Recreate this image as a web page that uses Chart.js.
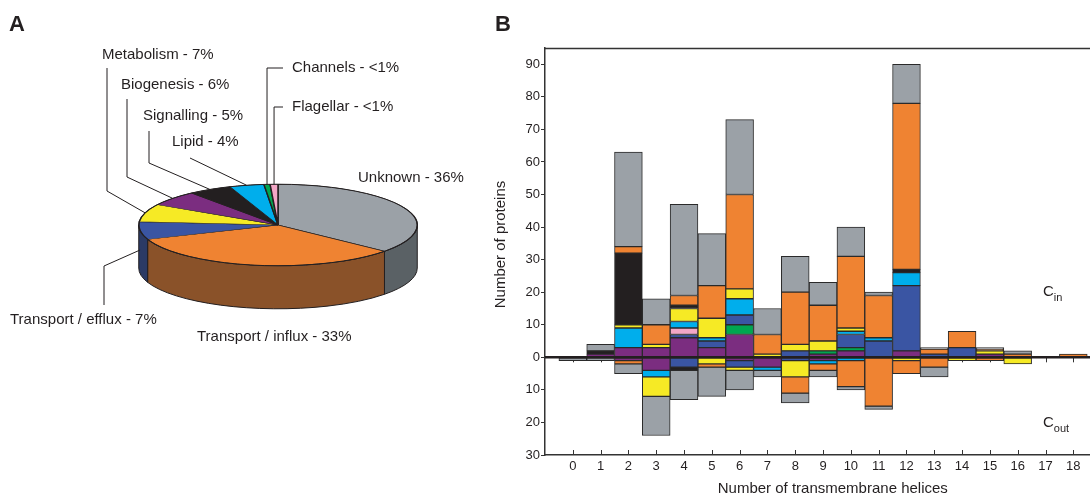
<!DOCTYPE html>
<html lang="en">
<head>
    <meta charset="UTF-8">
    <script src="https://cdn.jsdelivr.net/npm/chart.js"></script>
    <title>Membrane protein classes</title>
    <style>
        body {
            margin: 0;
            width: 1090px;
            height: 502px;
            background: #fff;
            overflow: hidden;
            position: relative;
        }
        canvas {
            position: absolute;
            top: 0;
        }
        #pieChart { left: 0; }
        #barChart { left: 480px; }
    </style>
</head>
<body>
<canvas id="pieChart" width="490" height="502"></canvas>
<canvas id="barChart" width="610" height="502"></canvas>
<script>
    // ---- panel A: functional classes ----
    const pieLabels = ['Unknown', 'Transport / influx', 'Transport / efflux', 'Metabolism', 'Biogenesis',
                       'Signalling', 'Lipid', 'Channels', 'Flagellar'];
    const pieShares = [36, 33, 7, 7, 6, 5, 4, 0.7, 0.9];
    const pieTexts = ['Unknown - 36%', 'Transport / influx - 33%', 'Transport / efflux - 7%', 'Metabolism - 7%',
                      'Biogenesis - 6%', 'Signalling - 5%', 'Lipid - 4%', 'Channels - <1%', 'Flagellar - <1%'];

    // ---- panel B: proteins per number of TM helices ----
    const helixCounts = [0, 1, 2, 3, 4, 5, 6, 7, 8, 9, 10, 11, 12, 13, 14, 15, 16, 17, 18];
    const yTicks = [-30, -20, -10, 0, 10, 20, 30, 40, 50, 60, 70, 80, 90];

    // C-terminus inside (stacked upwards)
    const biogenesisIn = [0, 1, 3, 3, 6, 3, 7, 0, 0, 1, 2, 0, 2, 0, 0, 1, 0, 0, 0];
    const channelsIn   = [0, 0, 0, 0, 0, 0, 3, 0, 0, 1, 1, 0, 0, 0, 0, 0, 0, 0, 0];
    const effluxIn     = [0, 0, 0, 0, 1, 2, 3, 0, 2, 0, 4, 5, 20, 1, 3, 0, 0, 0, 0];
    const flagellarIn  = [0, 0, 0, 0, 2, 0, 0, 0, 0, 0, 0, 0, 0, 0, 0, 0, 0, 0, 0];
    const lipidIn      = [0, 0, 6, 0, 2, 1, 5, 0, 0, 0, 1, 1, 4, 0, 0, 0, 0, 0, 0];
    const metabolismIn = [0, 0, 1, 1, 4, 6, 3, 1, 2, 3, 1, 0, 0, 0, 0, 1, 0, 0, 0];
    const signallingIn = [0, 1, 22, 0, 1, 0, 0, 0, 0, 0, 0, 0, 1, 0, 0, 0, 0, 0, 0];
    const influxIn     = [0, 0, 2, 6, 3, 10, 29, 6, 16, 11, 22, 13, 51, 1.5, 5, 0.5, 1, 0, 1];
    const unknownIn    = [0, 2, 29, 8, 28, 16, 23, 8, 11, 7, 9, 1, 12, 0.5, 0, 0.5, 1, 0, 0];

    // C-terminus outside (stacked downwards)
    const biogenesisOut = [0, 0, 1, 4, 0, 0, 1, 3, 0, 1, 0, 0, 0, 0, 0, 0, 0, 0, 0];
    const channelsOut   = [0, 0, 0, 0, 0, 0, 0, 0, 0, 0, 0, 0, 0, 0, 0, 0, 0, 0, 0];
    const effluxOut     = [0, 0, 0, 0, 3, 0, 2, 0, 1, 0, 0, 0, 0, 0, 0, 0, 0, 0, 0];
    const flagellarOut  = [0, 0, 0, 0, 0, 0, 0, 0, 0, 0, 0, 0, 0, 0, 0, 0, 0, 0, 0];
    const lipidOut      = [0, 0, 0, 2, 0, 0, 0, 1, 0, 1, 1, 0, 0, 0, 0, 0, 0, 0, 0];
    const metabolismOut = [0, 0, 0, 6, 0, 2, 1, 0, 5, 0, 0, 0, 1, 0, 1, 0, 2, 0, 0];
    const signallingOut = [0, 0, 0, 0, 1, 0, 0, 0, 0, 0, 0, 0, 0, 0, 0, 0, 0, 0, 0];
    const influxOut     = [0, 0, 1, 0, 0, 1, 0, 0, 5, 2, 8, 15, 4, 3, 0, 1, 0, 0, 0];
    const unknownOut    = [1, 1, 3, 12, 9, 9, 6, 2, 3, 2, 1, 1, 0, 3, 0, 0, 0, 0, 0];

    const colors = {
        Unknown: '#9ba1a7', 'Transport / influx': '#ef8332', 'Transport / efflux': '#3a55a3',
        Metabolism: '#f6ea25', Biogenesis: '#7b2d80', Signalling: '#231f20',
        Lipid: '#00aeec', Channels: '#00a650', Flagellar: '#f3a7c6'
    };
    const sideColors = {Unknown: '#5a6165', 'Transport / influx': '#8a5229', 'Transport / efflux': '#2b3a65'};

    Chart.defaults.font.family = "'Liberation Sans', Arial, sans-serif";
    Chart.defaults.color = '#231f20';

    const tilt = 41 / 140;
    const depth = 43;
    const ink = '#231f20';

    const pie3d = {
        id: 'pie3d',
        beforeDatasetsDraw(chart) {
            const ctx = chart.ctx;
            const arcs = chart.getDatasetMeta(0).data;
            const cx = arcs[0].x, cy = arcs[0].y, rx = arcs[0].outerRadius, ry = rx * tilt;
            // side wall, only the front half is seen
            ctx.save();
            arcs.forEach((a, i) => {
                const s = Math.max(a.startAngle, 0), e = Math.min(a.endAngle, Math.PI);
                if (e <= s) return;
                ctx.beginPath();
                ctx.ellipse(cx, cy, rx, ry, 0, s, e);
                ctx.lineTo(cx + rx * Math.cos(e), cy + ry * Math.sin(e) + depth);
                ctx.ellipse(cx, cy + depth, rx, ry, 0, e, s, true);
                ctx.closePath();
                ctx.fillStyle = sideColors[pieLabels[i]] || '#444';
                ctx.fill();
                ctx.lineWidth = 1;
                ctx.strokeStyle = ink;
                ctx.stroke();
            });
            ctx.restore();
            // squash the top face
            ctx.save();
            ctx.translate(cx, cy);
            ctx.scale(1, tilt);
            ctx.translate(-cx, -cy);
        },
        afterDatasetsDraw(chart) {
            const ctx = chart.ctx;
            ctx.restore();
            const arcs = chart.getDatasetMeta(0).data;
            const cx = arcs[0].x, cy = arcs[0].y, rx = arcs[0].outerRadius, ry = rx * tilt;
            ctx.save();
            ctx.strokeStyle = ink;
            ctx.lineWidth = 1;
            ctx.beginPath();
            ctx.ellipse(cx, cy, rx, ry, 0, 0, Math.PI * 2);
            ctx.stroke();
            ctx.restore();
        },
        afterDraw(chart) {
            const ctx = chart.ctx;
            const arcs = chart.getDatasetMeta(0).data;
            const cx = arcs[0].x, cy = arcs[0].y, rx = arcs[0].outerRadius, ry = rx * tilt;
            const edge = (i, down) => {
                const m = (arcs[i].startAngle + arcs[i].endAngle) / 2;
                return [cx + rx * Math.cos(m), cy + ry * Math.sin(m) + (down || 0)];
            };
            ctx.save();
            ctx.strokeStyle = ink;
            ctx.lineWidth = 1;
            const leader = pts => {
                ctx.beginPath();
                ctx.moveTo(pts[0][0], pts[0][1]);
                pts.slice(1).forEach(p => ctx.lineTo(p[0], p[1]));
                ctx.stroke();
            };
            leader([[107, 68], [107, 191], edge(3)]);
            leader([[127, 99], [127, 177], edge(4)]);
            leader([[149, 131], [149, 163], edge(5)]);
            leader([[190, 158], edge(6)]);
            const ch = edge(7), fl = edge(8);
            leader([[283, 68], [ch[0], 68], ch]);
            leader([[283, 107], [fl[0], 107], fl]);
            const ef = edge(2, depth * 0.45);
            leader([[104, 305], [104, 266], ef]);

            ctx.fillStyle = ink;
            ctx.font = "15px 'Liberation Sans', Arial, sans-serif";
            ctx.textBaseline = 'middle';
            const place = [[358, 178], [197, 337], [10, 320], [102, 55], [121, 85],
                           [143, 116], [172, 142], [292, 68], [292, 107]];
            pieTexts.forEach((t, i) => ctx.fillText(t, place[i][0], place[i][1]));

            ctx.font = "bold 22px 'Liberation Sans', Arial, sans-serif";
            ctx.textBaseline = 'alphabetic';
            ctx.fillText('A', 9, 31);
            ctx.restore();
        }
    };

    new Chart(document.getElementById('pieChart'), {
        type: 'pie',
        data: {
            labels: pieLabels,
            datasets: [{
                data: pieShares,
                backgroundColor: pieLabels.map(l => colors[l]),
                borderColor: ink,
                borderWidth: 1.5,
                hoverOffset: 0,
                clip: false
            }]
        },
        options: {
            responsive: false,
            animation: false,
            events: [],
            layout: {padding: {left: 138, right: 72, top: 85, bottom: 137}},
            plugins: {legend: {display: false}, tooltip: {enabled: false}}
        },
        plugins: [pie3d]
    });

    // ---- bar chart ----
    const order = ['Biogenesis', 'Channels', 'Transport / efflux', 'Flagellar', 'Lipid', 'Metabolism',
                   'Signalling', 'Transport / influx', 'Unknown'];
    const inside = [biogenesisIn, channelsIn, effluxIn, flagellarIn, lipidIn, metabolismIn, signallingIn, influxIn, unknownIn];
    const outside = [biogenesisOut, channelsOut, effluxOut, flagellarOut, lipidOut, metabolismOut, signallingOut, influxOut, unknownOut];

    function makeSet(name, values, sign) {
        return {
            label: name + (sign > 0 ? ' (Cin)' : ' (Cout)'),
            data: values.map((v, i) => ({x: helixCounts[i], y: v ? sign * v : null})),
            backgroundColor: colors[name],
            borderColor: '#2a2a2a',
            borderWidth: 1,
            borderSkipped: false,
            barPercentage: 1,
            categoryPercentage: 1
        };
    }
    const barSets = order.map((n, k) => makeSet(n, inside[k], 1))
        .concat(order.map((n, k) => makeSet(n, outside[k], -1)));

    const decor = {
        id: 'decor',
        beforeDatasetsDraw(chart) {
            const ctx = chart.ctx, x = chart.scales.x, y = chart.scales.y, area = chart.chartArea;
            const y0 = y.getPixelForValue(0);
            ctx.save();
            ctx.strokeStyle = '#333';
            ctx.lineWidth = 1;
            ctx.beginPath();
            helixCounts.forEach(h => {
                const px = Math.round(x.getPixelForValue(h)) + 0.5;
                ctx.moveTo(px, y0);
                ctx.lineTo(px, y0 + 5);
                ctx.moveTo(px, area.bottom);
                ctx.lineTo(px, area.bottom - 5);
            });
            ctx.stroke();
            ctx.lineWidth = 1.5;
            ctx.beginPath();
            ctx.moveTo(area.left, area.top + 0.5);
            ctx.lineTo(area.right, area.top + 0.5);
            ctx.stroke();
            ctx.restore();
        },
        afterDatasetsDraw(chart) {
            const ctx = chart.ctx, y = chart.scales.y, area = chart.chartArea;
            const y0 = y.getPixelForValue(0);
            ctx.save();
            ctx.strokeStyle = ink;
            ctx.lineWidth = 2.5;
            ctx.beginPath();
            ctx.moveTo(area.left, y0);
            ctx.lineTo(area.right, y0);
            ctx.stroke();
            ctx.restore();
        },
        afterDraw(chart) {
            const ctx = chart.ctx, x = chart.scales.x, area = chart.chartArea;
            ctx.save();
            ctx.fillStyle = ink;
            ctx.font = "15px 'Liberation Sans', Arial, sans-serif";
            ctx.textAlign = 'center';
            ctx.textBaseline = 'middle';
            ctx.fillText('Number of transmembrane helices', x.getPixelForValue(9.35), 489);
            ctx.save();
            ctx.translate(21, (area.top + area.bottom) / 2 - 7);
            ctx.rotate(-Math.PI / 2);
            ctx.fillText('Number of proteins', 0, 0);
            ctx.restore();

            ctx.textAlign = 'left';
            ctx.textBaseline = 'alphabetic';
            const sub = (main, small, px, base) => {
                ctx.font = "15px 'Liberation Sans', Arial, sans-serif";
                ctx.fillText(main, px, base);
                const w = ctx.measureText(main).width;
                ctx.font = "11px 'Liberation Sans', Arial, sans-serif";
                ctx.fillText(small, px + w, base + 5);
            };
            sub('C', 'in', 563, 296);
            sub('C', 'out', 563, 427);

            ctx.font = "bold 22px 'Liberation Sans', Arial, sans-serif";
            ctx.fillText('B', 15, 31);
            ctx.restore();
        }
    };

    new Chart(document.getElementById('barChart'), {
        type: 'bar',
        data: {datasets: barSets},
        options: {
            responsive: false,
            animation: false,
            events: [],
            layout: {padding: {top: 48, right: 0, left: 0, bottom: 0}},
            plugins: {legend: {display: false}, tooltip: {enabled: false}},
            scales: {
                x: {
                    type: 'linear',
                    min: -1,
                    max: 18.6,
                    offset: false,
                    stacked: true,
                    afterBuildTicks: s => { s.ticks = helixCounts.map(v => ({value: v})); },
                    afterFit: s => { s.height = 47; },
                    ticks: {font: {size: 13}, color: ink, padding: 4, autoSkip: false, maxRotation: 0},
                    grid: {display: false, drawTicks: false},
                    border: {color: '#333', width: 1.5}
                },
                y: {
                    type: 'linear',
                    min: -30,
                    max: 95,
                    stacked: true,
                    afterBuildTicks: s => { s.ticks = yTicks.map(v => ({value: v})); },
                    afterFit: s => { s.width = 65; },
                    ticks: {font: {size: 13}, color: ink, padding: 1, callback: v => Math.abs(v)},
                    grid: {drawOnChartArea: false, tickLength: 4, color: '#333'},
                    border: {color: '#333', width: 1.5}
                }
            }
        },
        plugins: [decor]
    });
</script>
</body>
</html>
